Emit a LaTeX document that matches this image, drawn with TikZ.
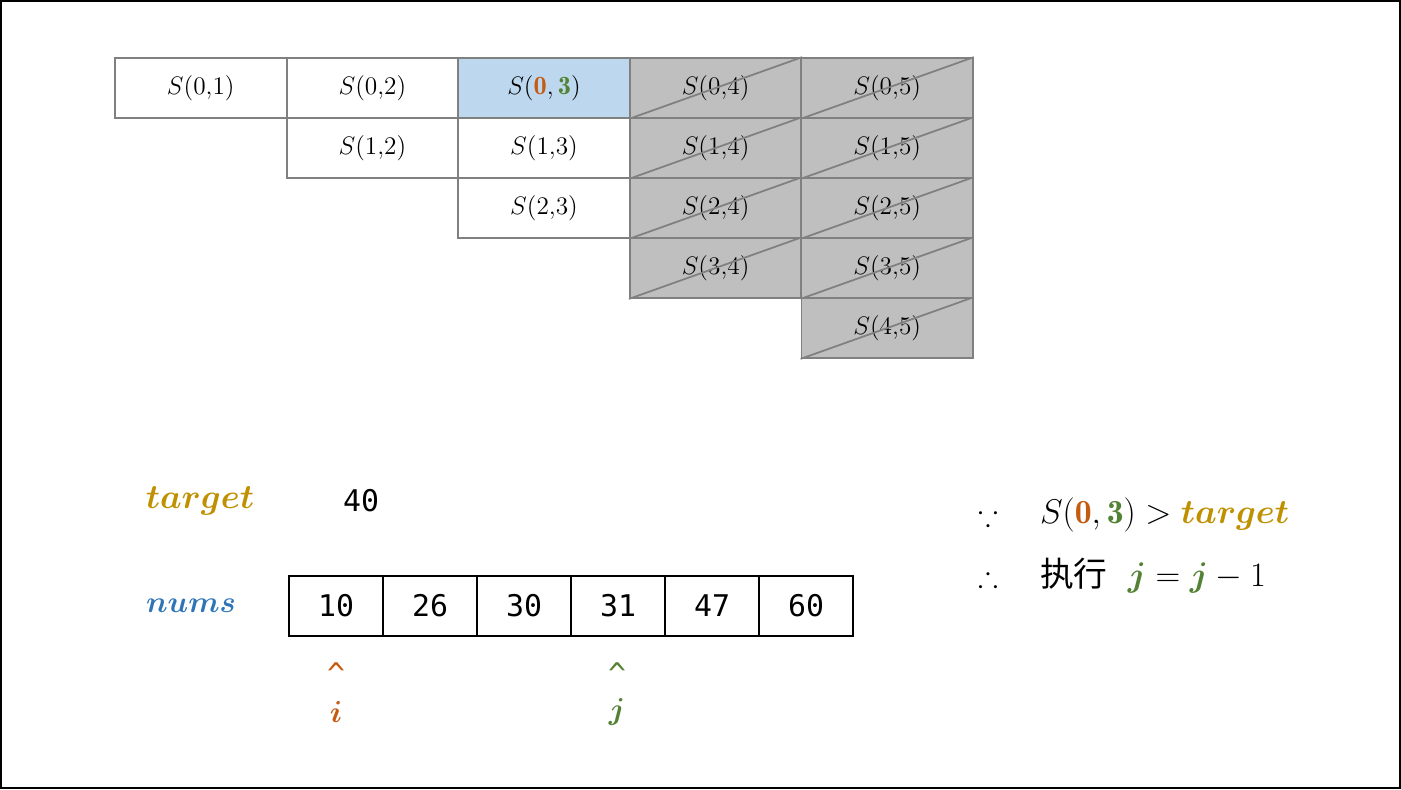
\documentclass[tikz,border=0pt]{standalone}
\usepackage{amsmath}
\usepackage{amssymb}
\usepackage{bm}
\usepackage{fontspec}
\setmonofont{DejaVu Sans Mono}
\newfontfamily\cjk{Noto Sans CJK SC}
\usetikzlibrary{positioning}

\definecolor{iorange}{HTML}{C55A11}
\definecolor{jgreen}{HTML}{548235}
\definecolor{tgold}{HTML}{BF9000}
\definecolor{nblue}{HTML}{2E75B6}
\definecolor{cellblue}{HTML}{BDD7EE}
\definecolor{gridgray}{HTML}{808080}
\definecolor{shadegray}{HTML}{BFBFBF}

\newcommand{\bigtext}{\fontsize{17}{20}\selectfont}

\begin{document}
\begin{tikzpicture}[x=0.02cm, y=-0.02cm,
    cell/.style={rectangle, draw=gridgray, line width=1pt, minimum width=3.43cm, minimum height=1.2cm, inner sep=0pt, font=\fontsize{15}{17}\selectfont},
    shaded/.style={cell, fill=shadegray},
    arr/.style={rectangle, draw=black, line width=1.1pt, minimum width=1.88cm, minimum height=1.2cm, inner sep=0pt, font=\ttfamily\bigtext},
    label/.style={font=\bigtext},
    wide/.style={label, scale=1.13, transform shape}]
    \useasboundingbox (0,0) rectangle (1401,789);
    \draw [line width=1.3pt] (1,1) rectangle (1400,788);

    % table of S(i,j)
    \foreach \r/\j in {0/1,0/2,1/2,1/3,2/3}
        \node (c\r\j) [cell] at ({115+171.6*(\j-1)+85.8}, {88+60*\r}) {$S(\r{,}\j)$};
    \node (c03) [cell, fill=cellblue] at ({115+171.6*2+85.8}, 88) {$S(\mathbf{\color{iorange}0},\mathbf{\color{jgreen}3})$};
    \foreach \r/\j in {0/4,0/5,1/4,1/5,2/4,2/5,3/4,3/5,4/5} {
        \node (c\r\j) [shaded] at ({115+171.6*(\j-1)+85.8}, {88+60*\r}) {$S(\r{,}\j)$};
        \draw [gridgray, line width=1pt] (c\r\j.south west) -- (c\r\j.north east);
    }

    % target and nums
    \node (target) [wide, text=tgold] at (200,501) {$\bm{target}$};
    \node (tval) [label, font=\ttfamily\bigtext] at (361,501) {40};
    \node (nums) [label, text=nblue] at (191,606) {$\bm{nums}$};
    \foreach \v [count=\k from 0] in {10,26,30,31,47,60}
        \node (n\k) [arr] at ({289+94*\k+47}, 606) {\v};

    % pointers
    \node (icaret) [label, text=iorange, font=\ttfamily\bigtext] at (336,674) {\textasciicircum};
    \node (ilabel) [label, text=iorange] at (336,712) {$\bm{i}$};
    \node (jcaret) [label, text=jgreen, font=\ttfamily\bigtext] at (617,674) {\textasciicircum};
    \node (jlabel) [label, text=jgreen] at (617,712) {$\bm{j}$};

    % reasoning
    \node (because) [label] at (988,515) {$\because$};
    \node (cond) [wide, anchor=west] at (1033,515) {$S(\mathbf{\color{iorange}0},\mathbf{\color{jgreen}3}) > {\color{tgold}\bm{target}}$};
    \node (therefore) [label] at (988,576) {$\therefore$};
    \node (act) [wide, anchor=west] at (1033,576) {{\cjk 执行}\ \ ${\color{jgreen}\bm{j}} = {\color{jgreen}\bm{j}} - 1$};
\end{tikzpicture}
\end{document}
